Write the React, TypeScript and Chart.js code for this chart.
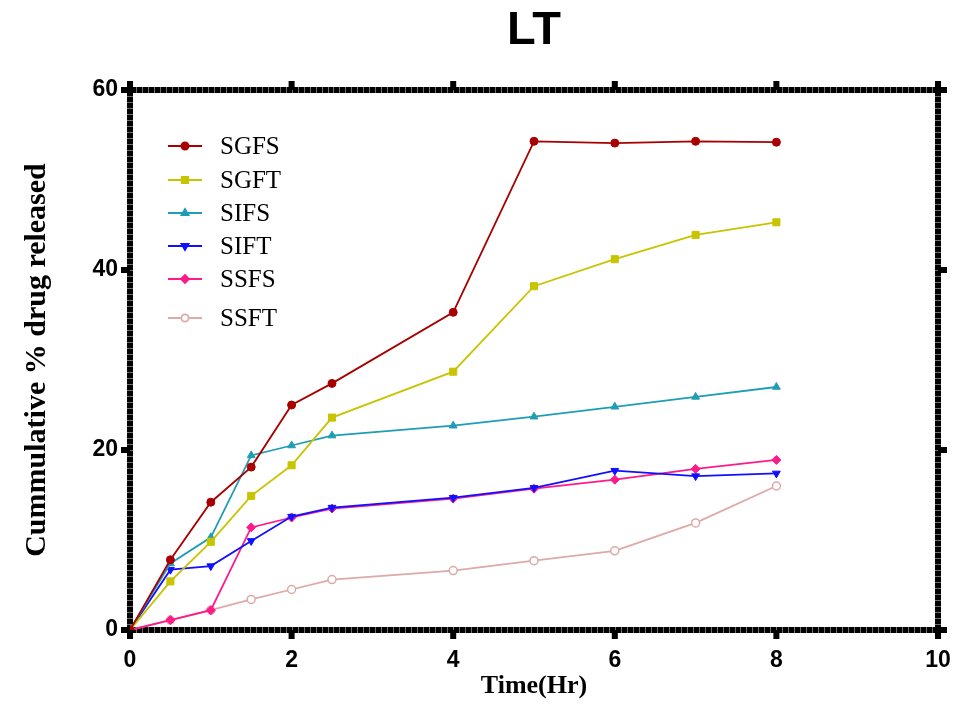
import React, { useEffect, useRef } from "react";
import { Chart, registerables } from "chart.js";
import { drawPoint } from "chart.js/helpers";

Chart.register(...registerables);

const timeHr = [0, 0.5, 1, 1.5, 2, 2.5, 4, 5, 6, 7, 8];
const seriesNames = ["SGFS", "SGFT", "SIFS", "SIFT", "SSFS", "SSFT"];
const sgfs = [0, 7.8, 14.2, 18.1, 25.0, 27.4, 35.3, 54.3, 54.1, 54.3, 54.2];
const sgft = [0, 5.4, 9.8, 14.9, 18.3, 23.6, 28.7, 38.2, 41.2, 43.9, 45.3];
const sifs = [0, 7.4, 10.3, 19.4, 20.5, 21.6, 22.7, 23.7, 24.8, 25.9, 27.0];
const sift = [0, 6.7, 7.1, 9.9, 12.6, 13.6, 14.7, 15.8, 17.7, 17.1, 17.4];
const ssfs = [0, 1.1, 2.2, 11.4, 12.5, 13.5, 14.6, 15.7, 16.7, 17.9, 18.9];
const ssft = [0, 1.1, 2.2, 3.4, 4.5, 5.6, 6.6, 7.7, 8.8, 11.9, 16.0];
const seriesValues = [sgfs, sgft, sifs, sift, ssfs, ssft];

const xTickValues = [0, 2, 4, 6, 8, 10];
const yTickValues = [0, 20, 40, 60];
const chartTitle = "LT";
const xAxisTitle = "Time(Hr)";
const yAxisTitle = "Cummulative % drug released";

const seriesStyles = [
  { color: "#a80000", pointStyle: "circle", radius: 4, rotation: 0, hollow: false },
  { color: "#c8c400", pointStyle: "rect", radius: 5, rotation: 0, hollow: false },
  { color: "#1f9db5", pointStyle: "triangle", radius: 4.5, rotation: 0, hollow: false },
  { color: "#1010ff", pointStyle: "triangle", radius: 4.5, rotation: 180, hollow: false },
  { color: "#ff1a8c", pointStyle: "rectRot", radius: 4.5, rotation: 0, hollow: false },
  { color: "#dcaaa9", pointStyle: "circle", radius: 4, rotation: 0, hollow: true },
];

const SANS = "'Liberation Sans', Arial, sans-serif";
const SERIF = "'Liberation Serif', 'Times New Roman', serif";

const frameAxesPlugin = {
  id: "frameAxes",
  beforeDatasetsDraw(chart: any) {
    const { ctx, chartArea: a, scales } = chart;
    const x = scales.x;
    const y = scales.y;
    const band = 6;
    const half = 3;
    const tick = 9;
    ctx.save();
    ctx.fillStyle = "#000";
    ctx.fillRect(a.left - half, a.bottom - half, a.right - a.left + band, band);
    ctx.fillRect(a.left - half, a.top - half, a.right - a.left + band, band);
    ctx.fillRect(a.left - half, a.top - half, band, a.bottom - a.top + band);
    ctx.fillRect(a.right - half, a.top - half, band, a.bottom - a.top + band);
    ctx.fillStyle = "rgba(130,130,130,0.85)";
    const xMinor = (x.getPixelForValue(2) - x.getPixelForValue(0)) / 27;
    for (let px = a.left + xMinor; px < a.right - 2; px += xMinor) {
      ctx.fillRect(Math.round(px), a.bottom - half, 1, band);
      ctx.fillRect(Math.round(px), a.top - half, 1, band);
    }
    const yMinor = (y.getPixelForValue(0) - y.getPixelForValue(20)) / 30;
    for (let py = a.bottom - yMinor; py > a.top + 2; py -= yMinor) {
      ctx.fillRect(a.left - half, Math.round(py), band, 1);
      ctx.fillRect(a.right - half, Math.round(py), band, 1);
    }
    ctx.fillStyle = "#000";
    xTickValues.forEach((v) => {
      const px = x.getPixelForValue(v);
      ctx.fillRect(px - half, a.bottom, band, tick);
      ctx.fillRect(px - half, a.top - tick, band, tick);
    });
    yTickValues.forEach((v) => {
      const py = y.getPixelForValue(v);
      ctx.fillRect(a.left - tick, py - half, tick, band);
      ctx.fillRect(a.right, py - half, tick, band);
    });
    ctx.restore();
  },
};

const titleAndLegendPlugin = {
  id: "titleAndLegend",
  afterDraw(chart: any) {
    const { ctx, chartArea: a } = chart;
    ctx.save();
    ctx.fillStyle = "#000";
    ctx.font = `bold 47px ${SANS}`;
    ctx.textAlign = "center";
    ctx.textBaseline = "middle";
    ctx.fillText(chartTitle, (a.left + a.right) / 2, 31);

    const rowY = [146, 180, 213, 246, 279, 318];
    const lineX0 = 168;
    const lineX1 = 202;
    const textX = 220;
    chart.data.datasets.forEach((ds: any, i: number) => {
      const st = seriesStyles[i];
      const yy = rowY[i];
      ctx.strokeStyle = st.color;
      ctx.lineWidth = 1.8;
      ctx.beginPath();
      ctx.moveTo(lineX0, yy);
      ctx.lineTo(lineX1, yy);
      ctx.stroke();
      ctx.fillStyle = st.hollow ? "#fff" : st.color;
      ctx.strokeStyle = st.color;
      drawPoint(
        ctx,
        {
          pointStyle: st.pointStyle as any,
          rotation: st.rotation,
          radius: st.radius * 0.9,
          borderWidth: st.hollow ? 1.5 : 1,
        } as any,
        (lineX0 + lineX1) / 2,
        yy
      );
      ctx.fillStyle = "#000";
      ctx.font = `25px ${SERIF}`;
      ctx.textAlign = "left";
      ctx.textBaseline = "middle";
      ctx.fillText(ds.label, textX, yy + 1);
    });
    ctx.restore();
  },
};

export default function App() {
  const canvasRef = useRef<HTMLCanvasElement | null>(null);

  useEffect(() => {
    const canvas = canvasRef.current;
    if (!canvas) return;
    const datasets = seriesNames.map((name, i) => {
      const st = seriesStyles[i];
      return {
        label: name,
        data: timeHr.map((t, j) => ({ x: t, y: seriesValues[i][j] })),
        borderColor: st.color,
        backgroundColor: st.hollow ? "#ffffff" : st.color,
        pointBackgroundColor: st.hollow ? "#ffffff" : st.color,
        pointBorderColor: st.color,
        pointBorderWidth: st.hollow ? 1.5 : 1,
        pointStyle: st.pointStyle,
        pointRotation: st.rotation,
        pointRadius: st.radius,
        borderWidth: 1.8,
        showLine: true,
        tension: 0,
        fill: false,
      };
    });

    const chart = new Chart(canvas, {
      type: "scatter",
      data: { datasets: datasets as any },
      options: {
        animation: false,
        responsive: false,
        devicePixelRatio: 1,
        layout: { padding: { top: 90, right: 15, left: 0, bottom: 0 } },
        plugins: {
          legend: { display: false },
          title: { display: false },
          tooltip: { enabled: false },
        },
        scales: {
          x: {
            type: "linear",
            min: 0,
            max: 10,
            afterFit: (s: any) => {
              s.height = 77;
              s.paddingLeft = 0;
              s.paddingRight = 0;
            },
            afterBuildTicks: (s: any) => {
              s.ticks = xTickValues.map((v) => ({ value: v }));
            },
            grid: { display: false, drawTicks: false },
            border: { display: false },
            ticks: {
              padding: 17,
              color: "#000",
              font: { family: SANS, size: 23, weight: "bold" },
              maxRotation: 0,
            },
            title: {
              display: true,
              text: xAxisTitle,
              color: "#000",
              font: { family: SERIF, size: 26, weight: "bold" },
              padding: { top: 0, bottom: 5 },
            },
          },
          y: {
            type: "linear",
            min: 0,
            max: 60,
            afterFit: (s: any) => {
              s.width = 130;
              s.paddingTop = 0;
              s.paddingBottom = 0;
            },
            afterBuildTicks: (s: any) => {
              s.ticks = yTickValues.map((v) => ({ value: v }));
            },
            grid: { display: false, drawTicks: false },
            border: { display: false },
            ticks: {
              padding: 12,
              color: "#000",
              font: { family: SANS, size: 23, weight: "bold" },
            },
            title: {
              display: true,
              text: yAxisTitle,
              color: "#000",
              font: { family: SERIF, size: 30, weight: "bold" },
              padding: { top: 19, bottom: 0 },
            },
          },
        },
      },
      plugins: [frameAxesPlugin, titleAndLegendPlugin],
    });

    return () => {
      chart.destroy();
    };
  }, []);

  return (
    <div
      style={{
        position: "fixed",
        left: 0,
        top: 0,
        width: 953,
        height: 707,
        background: "#fff",
      }}
    >
      <canvas ref={canvasRef} width={953} height={707} style={{ width: 953, height: 707, display: "block" }} />
    </div>
  );
}
